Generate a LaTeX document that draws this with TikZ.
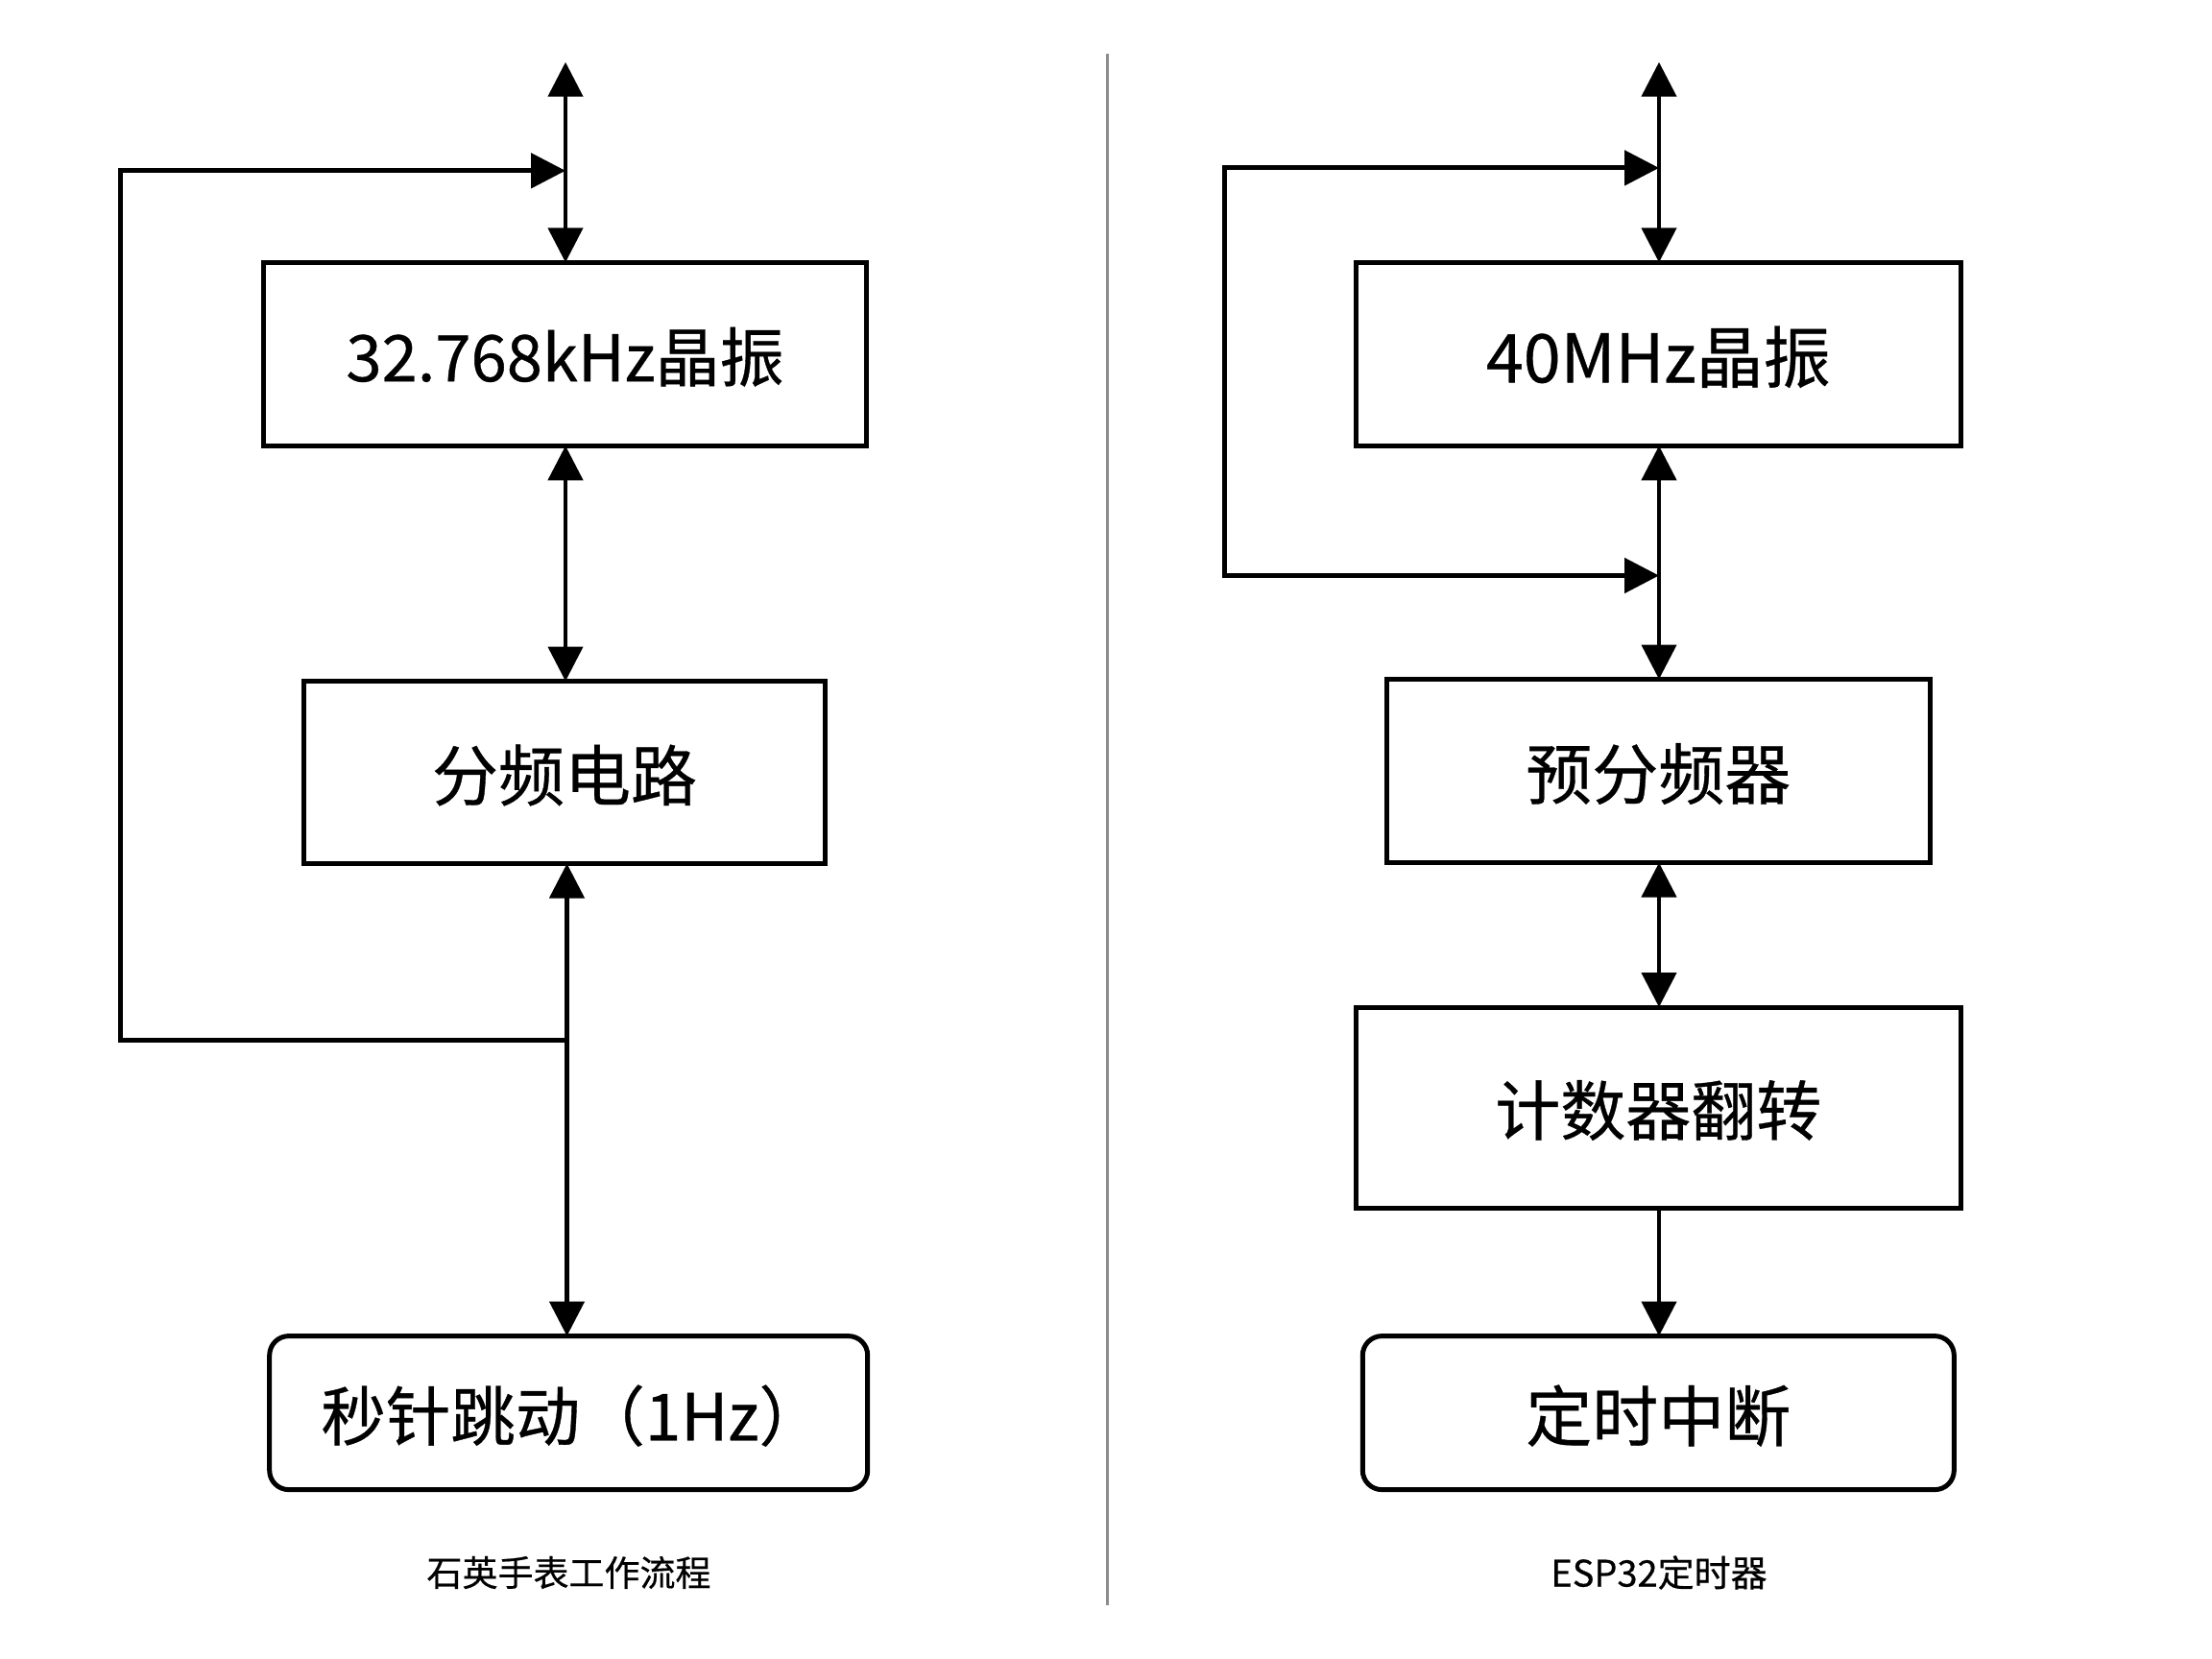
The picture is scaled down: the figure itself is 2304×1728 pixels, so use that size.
\documentclass[tikz,border=0pt]{standalone}
\usepackage{fontspec}
\usetikzlibrary{arrows.meta}
\setmainfont{Noto Sans CJK SC}[FakeBold=0.5]
\newcommand{\lowtext}[2]{\fontsize{#1}{70}\selectfont\raisebox{-3pt}[\height][\depth]{#2}}
\tikzset{
  x=1pt,y=-1pt,
  boxnode/.style={draw=black,line width=5pt,fill=white,inner sep=0pt,outer sep=0pt,anchor=center},
  roundnode/.style={boxnode,rounded corners=20pt},
  capnode/.style={inner sep=0pt,anchor=center},
  link/.style={line width=4.5pt,{Triangle[length=36pt,width=36pt]}-{Triangle[length=36pt,width=36pt]}},
  oneway/.style={line width=4.5pt,-{Triangle[length=36pt,width=36pt]}},
  plainline/.style={line width=5pt,line join=miter},
}
\begin{document}
\begin{tikzpicture}
\useasboundingbox (0,0) rectangle (2304,1728);
% left column
\node[boxnode,minimum width=628pt,minimum height=191pt] (xtalA) at (588.5,368.8) {\lowtext{67}{32.768kHz晶振}};
\node[boxnode,minimum width=543pt,minimum height=190pt] (divA) at (588,804.5) {\lowtext{69}{分频电路}};
\node[roundnode,minimum width=623pt,minimum height=160pt] (secA) at (592.2,1471.6) {\lowtext{67.5}{\hspace{8pt}秒针跳动（1Hz）}};
\node[capnode,font=\fontsize{37}{40}\selectfont] (capA) at (592.5,1638) {石英手表工作流程};
\coordinate (topA) at (589,64.7);
\coordinate (juncA) at (589,177.8);
\coordinate (cornerA1) at (125.5,177.8);
\coordinate (cornerA2) at (125.5,1083);
\coordinate (juncB) at (590.5,1083);
\draw[link] (topA) -- (topA |- xtalA.north);
\draw[link] (topA |- xtalA.south) -- (topA |- divA.north);
\draw[link] (juncB |- divA.south) -- (juncB |- secA.north);
\draw[plainline,-{Triangle[length=36pt,width=36pt]}] (juncB) -- (cornerA2) -- (cornerA1) -- (juncA);
% divider
\coordinate (divTop) at (1153.5,56);
\coordinate (divBot) at (1153.5,1672);
\draw[line width=3pt,draw=black!45] (divTop) -- (divBot);
% right column
\node[boxnode,minimum width=630.5pt,minimum height=191pt] (xtalB) at (1727.3,368.8) {\lowtext{70}{40MHz晶振}};
\node[boxnode,minimum width=566pt,minimum height=191pt] (preB) at (1727.3,803) {\lowtext{69}{预分频器}};
\node[boxnode,minimum width=630.5pt,minimum height=209pt] (cntB) at (1727.3,1153.5) {\lowtext{68}{计数器翻转}};
\node[roundnode,minimum width=616pt,minimum height=160pt] (irqB) at (1727.3,1471.6) {\lowtext{69}{定时中断}};
\node[capnode,font=\fontsize{38}{40}\selectfont] (capB) at (1728,1638) {ESP32定时器};
\coordinate (topB) at (1728,64.7);
\coordinate (juncC) at (1728,174.9);
\coordinate (juncD) at (1728,599.5);
\coordinate (cornerB1) at (1275.5,174.9);
\coordinate (cornerB2) at (1275.5,599.5);
\draw[link] (topB) -- (topB |- xtalB.north);
\draw[link] (topB |- xtalB.south) -- (topB |- preB.north);
\draw[link] (topB |- preB.south) -- (topB |- cntB.north);
\draw[oneway] (topB |- cntB.south) -- (topB |- irqB.north);
\draw[plainline,{Triangle[length=36pt,width=36pt]}-{Triangle[length=36pt,width=36pt]}] (juncD) -- (cornerB2) -- (cornerB1) -- (juncC);
\end{tikzpicture}
\end{document}
